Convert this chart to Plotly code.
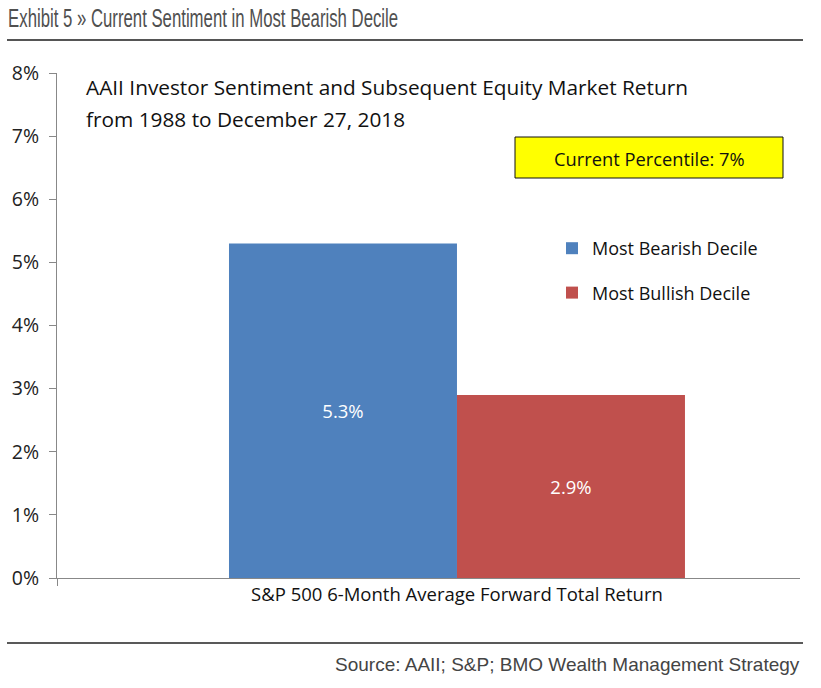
import plotly.graph_objects as go

category = ["S&P 500 6-Month Average Forward Total Return"]
series_names = ["Most Bearish Decile", "Most Bullish Decile"]
bearish_values = [5.3]
bullish_values = [2.9]
series_colors = ["#4F81BD", "#C0504D"]
y_ticks = [0, 1, 2, 3, 4, 5, 6, 7, 8]
y_tick_labels = [f"{v}%" for v in y_ticks]

title_text = "Exhibit 5 » Current Sentiment in Most Bearish Decile"
subtitle_lines = ["AAII Investor Sentiment and Subsequent Equity Market Return",
                  "from 1988 to December 27, 2018"]
callout_text = "Current Percentile: 7%"
source_text = "Source: AAII; S&P; BMO Wealth Management Strategy"

body_font = "Open Sans, Noto Sans, sans-serif"
narrow_font = "Liberation Sans, Arial, sans-serif"

fig = go.Figure()
for name, vals, col, grp in [(series_names[0], bearish_values, series_colors[0], "a"),
                             (series_names[1], bullish_values, series_colors[1], "b")]:
    fig.add_trace(go.Bar(
        x=category, y=vals, name=name, marker=dict(color=col, line=dict(width=0)),
        text=[f"{v:.1f}%" for v in vals], textposition="inside",
        insidetextanchor="middle", textangle=0,
        textfont=dict(color="white", size=18.5, family=body_font),
        legendgroup=grp, hoverinfo="skip",
    ))

W, H = 821, 688
ml, mr, mt, mb = 57, 21, 73, 110
PW, PH = W - ml - mr, H - mt - mb

def px_x(x):
    return (x - ml) / PW

def px_y(y):
    return 1 - (y - mt) / PH

fig.update_layout(
    width=W, height=H,
    margin=dict(l=ml, r=mr, t=mt, b=mb),
    paper_bgcolor="white", plot_bgcolor="white",
    barmode="group", bargap=0.43, bargroupgap=0,
    showlegend=True,
    legend=dict(x=px_x(552), y=px_y(230), xanchor="left", yanchor="top",
                font=dict(size=18, family=body_font, color="#111"),
                tracegroupgap=18, bgcolor="rgba(0,0,0,0)"),
    xaxis=dict(type="category", range=[-0.5, 0.4288], showline=True,
               linecolor="#888", linewidth=1, ticks="outside", tickson="boundaries",
               ticklen=7, tickcolor="#888", showgrid=False,
               tickfont=dict(size=18.5, family=body_font, color="#111")),
    yaxis=dict(range=[0, 8], tickvals=y_ticks, ticktext=y_tick_labels,
               showline=True, linecolor="#888", linewidth=1, ticks="outside",
               ticklen=7, tickcolor="#888", showgrid=False, zeroline=False,
               ticklabelstandoff=6,
               tickfont=dict(size=19.5, family=body_font, color="#222")),
    font=dict(family=body_font),
)

# Title (condensed via SVG textLength in post script) and rules
TITLE_LEFT, TITLE_WIDTH = 8, 390
fig.add_annotation(text=title_text, xref="paper", yref="paper",
                   x=px_x(TITLE_LEFT + TITLE_WIDTH / 2), y=px_y(18),
                   xanchor="center", yanchor="middle", align="center", showarrow=False,
                   font=dict(size=25, family=narrow_font, color="#505050"))
fig.add_shape(type="line", xref="paper", yref="paper",
              x0=px_x(7), x1=px_x(803), y0=px_y(40), y1=px_y(40),
              line=dict(color="#555", width=2))
fig.add_shape(type="line", xref="paper", yref="paper",
              x0=px_x(7), x1=px_x(803), y0=px_y(643), y1=px_y(643),
              line=dict(color="#222", width=1.5))
fig.add_annotation(text=source_text, xref="paper", yref="paper",
                   x=px_x(802), y=px_y(664),
                   xanchor="right", yanchor="middle", showarrow=False,
                   font=dict(size=19, family=narrow_font, color="#444"))

# Subtitle
for i, line in enumerate(subtitle_lines):
    fig.add_annotation(text=line, xref="paper", yref="paper",
                       x=px_x(84), y=px_y(87 + 32 * i),
                       xanchor="left", yanchor="middle", showarrow=False,
                       font=dict(size=20.8, family=body_font, color="#111"))

# Callout box
fig.add_shape(type="rect", xref="paper", yref="paper",
              x0=px_x(515), x1=px_x(783), y0=px_y(178), y1=px_y(137),
              fillcolor="#FFFF00", line=dict(color="#111", width=1), layer="above")
fig.add_annotation(text=callout_text, xref="paper", yref="paper",
                   x=px_x(649), y=px_y(158),
                   xanchor="center", yanchor="middle", showarrow=False,
                   font=dict(size=18.3, family=body_font, color="#111"))

post = """
document.body.style.margin='0px';
document.querySelectorAll('text.annotation-text').forEach(function(t){
  if (t.textContent.indexOf('Exhibit 5') === 0) {
    t.setAttribute('textLength', '%d');
    t.setAttribute('lengthAdjust', 'spacingAndGlyphs');
  }
});
""" % TITLE_WIDTH

fig.write_html("out.html", post_script=post, config={"displayModeBar": False})
